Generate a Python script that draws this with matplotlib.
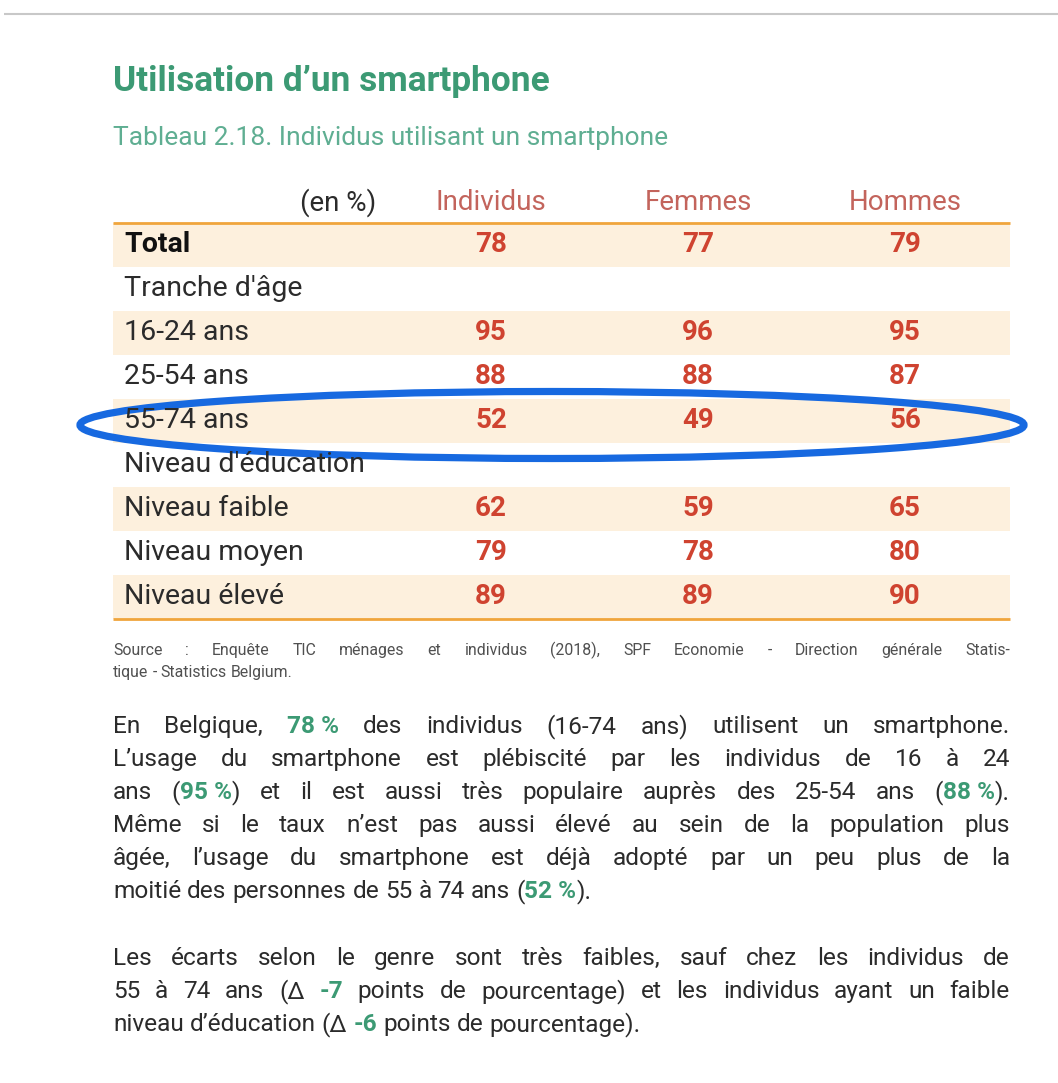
import matplotlib

matplotlib.use("Agg")
import matplotlib.pyplot as plt
from matplotlib.patches import Ellipse, Rectangle

FONT = "Roboto"
GREEN = "#3c9a74"
LIGHT_GREEN = "#5fae92"
RED = "#cf4330"
HEAD_RED = "#c3645c"
TEXT = "#2b2b2b"
BAND = "#fdf0dd"
ORANGE = "#f0a53c"

title = "Utilisation d\u2019un smartphone"
subtitle = "Tableau 2.18. Individus utilisant un smartphone"
unit_label = "(en %)"
columns = ["Individus", "Femmes", "Hommes"]
row_labels = ["Total", "Tranche d'âge", "16-24 ans", "25-54 ans", "55-74 ans",
              "Niveau d'éducation", "Niveau faible", "Niveau moyen", "Niveau élevé"]
individus = [78, None, 95, 88, 52, None, 62, 79, 89]
femmes = [77, None, 96, 88, 49, None, 59, 78, 89]
hommes = [79, None, 95, 87, 56, None, 65, 80, 90]
highlight_row = "55-74 ans"

source_lines = [
    "Source : Enquête TIC ménages et individus (2018), SPF Economie - Direction générale Statis-",
    "tique - Statistics Belgium.",
]
para1 = [
    "En Belgique, {78 %} des individus (16-74 ans) utilisent un smartphone.",
    "L\u2019usage du smartphone est plébiscité par les individus de 16 à 24",
    "ans ({95 %}) et il est aussi très populaire auprès des 25-54 ans ({88 %}).",
    "Même si le taux n\u2019est pas aussi élevé au sein de la population plus",
    "âgée, l\u2019usage du smartphone est déjà adopté par un peu plus de la",
    "moitié des personnes de 55 à 74 ans ({52 %}).",
]
para2 = [
    "Les écarts selon le genre sont très faibles, sauf chez les individus de",
    "55 à 74 ans (Δ {-7} points de pourcentage) et les individus ayant un faible",
    "niveau d\u2019éducation (Δ {-6} points de pourcentage).",
]

LEFT, RIGHT = 113, 1010

fig = plt.figure(figsize=(10.58, 10.83), dpi=100)
ax = fig.add_axes([0, 0, 1, 1])
ax.set_xlim(0, 1058)
ax.set_ylim(1083, 0)
ax.axis("off")
renderer = fig.canvas.get_renderer()

ax.plot([4, 1058], [14, 14], color="#c8c8c8", lw=1.5, solid_capstyle="butt")

ax.text(LEFT, 81, title, fontsize=25.4, fontweight="bold", color=GREEN,
        family=FONT, va="center", ha="left")
ax.text(LEFT, 138, subtitle, fontsize=19, color=LIGHT_GREEN,
        family=FONT, va="center", ha="left")

# table
col_x = [491, 698, 905]
row_h = 44
top = 223
ax.text(376, 203, unit_label, fontsize=20, color=TEXT, family=FONT,
        ha="right", va="center")
for x, c in zip(col_x, columns):
    ax.text(x, 203, c, fontsize=20, color=HEAD_RED, family=FONT,
            ha="center", va="center")

for i, label in enumerate(row_labels):
    y0 = top + i * row_h
    yc = y0 + row_h / 2
    if i % 2 == 0:
        ax.add_patch(Rectangle((LEFT, y0), RIGHT - LEFT, row_h, color=BAND, lw=0))
    ax.text(124, yc, label, fontsize=20.5, color="#111111" if i == 0 else TEXT,
            fontweight="bold" if i == 0 else "normal", family=FONT,
            ha="left", va="center")
    for x, series in zip(col_x, [individus, femmes, hommes]):
        v = series[i]
        if v is not None:
            ax.text(x, yc, str(v), fontsize=20, color=RED, fontweight="bold",
                    family=FONT, ha="center", va="center")

ax.plot([LEFT, RIGHT], [top, top], color=ORANGE, lw=2, solid_capstyle="butt")
bottom = top + len(row_labels) * row_h
ax.plot([LEFT, RIGHT], [bottom, bottom], color=ORANGE, lw=2, solid_capstyle="butt")

hi = row_labels.index(highlight_row)
ax.add_patch(Ellipse((552, top + hi * row_h + row_h / 2 + 4), 944, 67,
                     fill=False, edgecolor="#1769e0", lw=5.2))


def parse_words(line):
    # words made of (text, highlighted) pieces; braces mark green bold parts
    protected = []
    depth = False
    for ch in line:
        if ch == "{":
            depth = True
        elif ch == "}":
            depth = False
        if ch == " " and depth:
            protected.append("\u00a0")
        else:
            protected.append(ch)
    words = []
    for w in "".join(protected).split(" "):
        pieces = []
        buf, hl = "", False
        for ch in w:
            if ch in "{}":
                if buf:
                    pieces.append((buf, hl))
                buf, hl = "", ch == "{"
            else:
                buf += ch
        if buf:
            pieces.append((buf, hl))
        words.append(pieces)
    return words


def text_width(s, size, bold):
    t = ax.text(0, 0, s, fontsize=size, family=FONT,
                fontweight="bold" if bold else "normal")
    bb = t.get_window_extent(renderer=renderer)
    t.remove()
    return bb.width


def draw_paragraph(lines, y_start, spacing, size, color, justify_last=False):
    space = text_width("a a", size, False) - text_width("aa", size, False)
    for k, line in enumerate(lines):
        y = y_start + k * spacing
        words = parse_words(line)
        widths = [[text_width(p, size, hl) for p, hl in w] for w in words]
        total = sum(sum(w) for w in widths)
        last = k == len(lines) - 1 and not justify_last
        gap = space if last or len(words) < 2 else (RIGHT - LEFT - total) / (len(words) - 1)
        x = LEFT
        for w, ws in zip(words, widths):
            for (p, hl), pw in zip(w, ws):
                ax.text(x, y, p, fontsize=size, family=FONT,
                        color=GREEN if hl else color,
                        fontweight="bold" if hl else "normal",
                        ha="left", va="baseline")
                x += pw
            x += gap


draw_paragraph(source_lines[:1], 655, 22, 11.4, "#505050", justify_last=True)
draw_paragraph(source_lines[1:], 677, 22, 11.4, "#505050")
draw_paragraph(para1, 733, 33, 17.6, TEXT)
draw_paragraph(para2, 965, 33, 17.6, TEXT)

fig.savefig("out.png", dpi=100, facecolor="white")
